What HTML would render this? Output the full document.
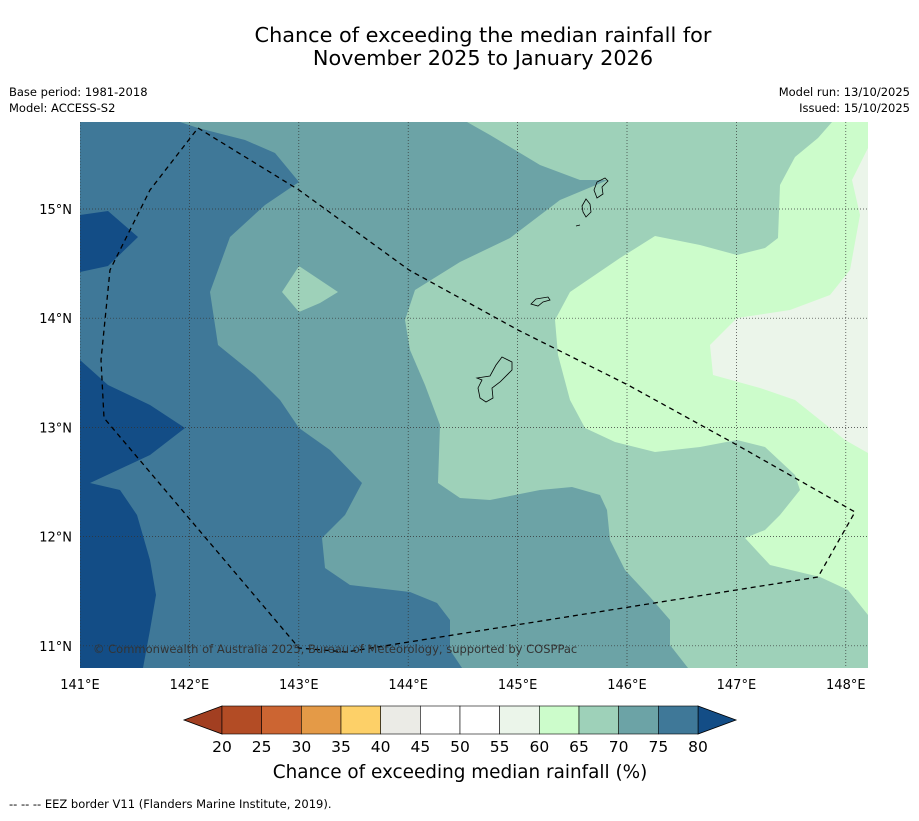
<!DOCTYPE html>
<html><head><meta charset="utf-8"><style>
body{margin:0;background:#fff;font-family:"Liberation Sans","DejaVu Sans",sans-serif;}
svg text{font-family:"DejaVu Sans","Liberation Sans",sans-serif;}
</style></head><body>
<svg id="s" width="919" height="816" viewBox="0 0 919 816" xmlns="http://www.w3.org/2000/svg">
<text x="483" y="42" font-size="20.8" text-anchor="middle">Chance of exceeding the median rainfall for</text>
<text x="483" y="65" font-size="20.8" text-anchor="middle">November 2025 to January 2026</text>
<text x="9" y="96" font-size="11.5">Base period: 1981-2018</text>
<text x="9" y="112" font-size="11.5">Model: ACCESS-S2</text>
<text x="910" y="96" font-size="11.5" text-anchor="end">Model run: 13/10/2025</text>
<text x="910" y="112" font-size="11.5" text-anchor="end">Issued: 15/10/2025</text>
<defs><clipPath id="mc"><rect x="80" y="122" width="788" height="546"/></clipPath></defs>
<g id="map" clip-path="url(#mc)">
<rect x="80" y="122" width="788" height="546" fill="#3f7898"/>
<path fill="#134d86" d="M80,215 L108,211 L138,237 L108,266 L80,272Z"/>
<path fill="#134d86" d="M80,360 L108,385 L150,405 L185,428 L150,455 L90,483 L120,490 L137,515 L150,560 L156,595 L150,630 L143,668 L80,668Z"/>
<path fill="#6ca3a6" d="M180,122 L198,128 L245,140 L275,153 L299,182 L265,205 L230,237 L210,292 L218,345 L255,375 L280,400 L299,428 L330,450 L362,483 L345,515 L322,538 L325,568 L350,585 L410,592 L437,603 L450,620 L450,650 L462,668 L868,668 L868,122Z"/>
<path fill="#9ed1b9" d="M467,122 L490,135 L540,165 L580,180 L608,180 L560,200 L510,238 L460,262 L415,290 L405,320 L410,350 L425,385 L440,425 L438,483 L460,498 L490,500 L540,490 L572,487 L600,495 L607,510 L610,540 L625,570 L650,597 L670,620 L670,645 L688,668 L868,668 L868,122Z"/>
<path fill="#9ed1b9" d="M299,266 L338,292 L320,303 L299,312 L282,292Z"/>
<path fill="#ccfccb" d="M832,122 L818,138 L795,157 L780,185 L778,238 L765,248 L737,255 L700,245 L655,236 L620,258 L570,292 L555,320 L558,355 L570,400 L585,428 L615,442 L655,452 L700,447 L737,440 L765,447 L795,475 L800,490 L780,515 L765,530 L745,538 L770,565 L820,577 L848,590 L868,615 L868,122Z"/>
<path fill="#ebf5ea" d="M868,148 L852,180 L860,215 L850,270 L830,295 L790,310 L737,318 L710,345 L713,375 L760,388 L795,400 L820,420 L845,440 L868,453Z"/>
<g id="grid"></g>
<g fill="none" stroke="#000" stroke-width="0.8">
<path d="M477,378 L490,376 L496,365 L502,357 L512,362 L512,370 L500,382 L492,388 L493,398 L486,402 L480,398 L478,388 L482,380Z"/>
<path d="M531,304 L536,299 L548,297 L550,300 L543,302 L538,306Z"/>
<path d="M582,206 L586,199 L590,204 L591,212 L586,217 L583,212Z"/>
<path d="M594,190 L597,182 L605,178 L608,181 L602,187 L603,194 L597,198Z"/>
<path d="M576,226 L580,225"/>
</g>
<path fill="none" stroke="#000" stroke-width="1.3" stroke-dasharray="5,4" d="M198,128 L299,190 L409,270 L518,330 L628,385 L737,445 L855,512 L818,577 L346,652 L299,648 L104,418 L101,360 L110,270 L150,190 Z"/>
<text x="93" y="653" font-size="11.5" fill="#333">© Commonwealth of Australia 2025, Bureau of Meteorology, supported by COSPPac</text>
</g>
<g id="axes"></g>
<g id="cbar"></g>
<text x="460" y="778" font-size="18.4" text-anchor="middle">Chance of exceeding median rainfall (%)</text>
<text x="9" y="808" font-size="11.5">--  --  -- EEZ border V11 (Flanders Marine Institute, 2019).</text>
</svg>
<script>
const lonTicks=[141,142,143,144,145,146,147,148];
const latTicks=[15,14,13,12,11];
const levels=[20,25,30,35,40,45,50,55,60,65,70,75,80];
const bandColors=["#b34c25","#cc6532","#e49a47","#fdd068","#ebebe6","#ffffff","#ffffff","#ebf5ea","#ccfccb","#9ed1b9","#6ca3a6","#3f7898"];
const lowColor="#a23f21", highColor="#134d86";
const NS="http://www.w3.org/2000/svg";
const X=l=>80+(l-141)*109.4, Y=l=>209+(15-l)*109.2;
function mk(t,a,p){const e=document.createElementNS(NS,t);for(const k in a)e.setAttribute(k,a[k]);p.appendChild(e);return e;}
const grid=document.getElementById('grid'),axes=document.getElementById('axes');
lonTicks.forEach(l=>{
 const g=mk('line',{x1:X(l),x2:X(l),y1:122,y2:668,stroke:'#333','stroke-width':0.7,'stroke-dasharray':'1,2'},grid);
 
 
 const t=mk('text',{x:X(l),y:689,'font-size':13,'text-anchor':'middle'},axes);t.textContent=l+'°E';
 
 
});
latTicks.forEach(l=>{
 const g=mk('line',{x1:80,x2:868,y1:Y(l),y2:Y(l),stroke:'#333','stroke-width':0.7,'stroke-dasharray':'1,2'},grid);
 
 
 const t=mk('text',{x:72,y:Y(l)+5,'font-size':13,'text-anchor':'end'},axes);t.textContent=l+'°N';
 
 
});
const cb=document.getElementById('cbar');
const x0=222,x1=698,y0=706,y1=734,w=(x1-x0)/bandColors.length;
const lo=mk('path',{d:`M${x0},${y0} L184,${(y0+y1)/2} L${x0},${y1}Z`,fill:lowColor,stroke:'#000','stroke-width':0.8},cb);


const hi=mk('path',{d:`M${x1},${y0} L736,${(y0+y1)/2} L${x1},${y1}Z`,fill:highColor,stroke:'#000','stroke-width':0.8},cb);


bandColors.forEach((c,i)=>{
 const r=mk('rect',{x:x0+i*w,y:y0,width:w,height:y1-y0,fill:c,stroke:'#000','stroke-width':0.6},cb);
 
 
});
levels.forEach((v,i)=>{
 const t=mk('text',{x:x0+i*w,y:752,'font-size':15.5,'text-anchor':'middle'},cb);t.textContent=v;
 
 
});
</script>
</body></html>
